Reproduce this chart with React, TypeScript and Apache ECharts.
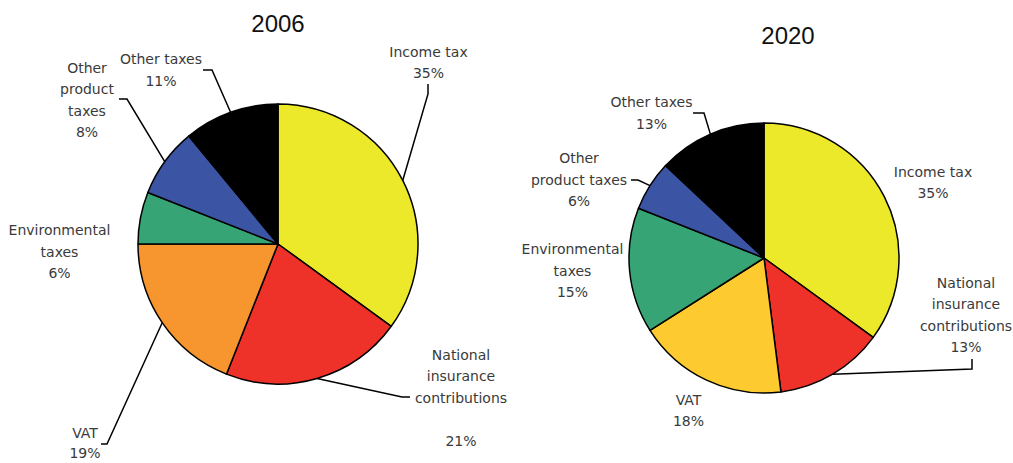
import React, { useEffect, useRef } from "react";
import * as echarts from "echarts";

const years = ["2006", "2020"];
const categories = [
  "Income tax",
  "National insurance contributions",
  "VAT",
  "Environmental taxes",
  "Other product taxes",
  "Other taxes",
];
const values2006 = [35, 21, 19, 6, 8, 11];
const values2020 = [35, 13, 18, 15, 6, 13];
// label wrapping as shown in each chart
const labels2006 = [
  "Income tax",
  "National\ninsurance\ncontributions\n",
  "VAT",
  "Environmental\ntaxes",
  "Other\nproduct\ntaxes",
  "Other taxes",
];
const labels2020 = [
  "Income tax",
  "National\ninsurance\ncontributions",
  "VAT",
  "Environmental\ntaxes",
  "Other\nproduct taxes",
  "Other taxes",
];
const colors2006 = ["#ECE82A", "#EE3129", "#F7952E", "#36A475", "#3B54A4", "#000000"];
const colors2020 = ["#ECE82A", "#EE3129", "#FDCA2F", "#36A475", "#3B54A4", "#000000"];

// layout (pixels)
const pies = [
  { cx: 278, cy: 244, r: 140, titleX: 278, titleY: 23 },
  { cx: 764, cy: 258, r: 135, titleX: 788, titleY: 35 },
];
type Lay = { x: number; y: number; lh?: number; line?: number[][] };
const layout2006: Lay[] = [
  { x: 428.5, y: 62.5, line: [[428, 94], [428, 84]] },
  { x: 461, y: 397.5, line: [[402, 397], [410, 397]] },
  { x: 85, y: 443, lh: 20, line: [[107, 444], [101, 444]] },
  { x: 59.5, y: 251.5 },
  { x: 87, y: 100, line: [[127, 99], [119, 99]] },
  { x: 161, y: 70, line: [[212, 70], [203, 70]] },
];
const layout2020: Lay[] = [
  { x: 933, y: 182.5 },
  { x: 966, y: 315, line: [[972, 369], [972, 359]] },
  { x: 688.5, y: 410.5 },
  { x: 572.5, y: 270.5 },
  { x: 579, y: 179.5, line: [[638, 180], [631, 180]] },
  { x: 651.5, y: 113, line: [[704, 113], [693, 113]] },
];

function edgePoint(values: number[], idx: number, cx: number, cy: number, r: number) {
  const total = values.reduce((a, b) => a + b, 0);
  let before = 0;
  for (let i = 0; i < idx; i++) before += values[i];
  const mid = ((before + values[idx] / 2) / total) * Math.PI * 2;
  return [cx + r * Math.sin(mid), cy - r * Math.cos(mid)];
}

function makeSeries(
  values: number[],
  labels: string[],
  colors: string[],
  lay: Lay[],
  p: { cx: number; cy: number; r: number }
) {
  return {
    type: "pie",
    center: [p.cx, p.cy],
    radius: p.r,
    startAngle: 90,
    clockwise: true,
    avoidLabelOverlap: false,
    silent: true,
    itemStyle: { borderColor: "#000", borderWidth: 1.5 },
    label: {
      show: true,
      position: "outside",
      fontFamily: "DejaVu Sans",
      fontSize: 14,
      lineHeight: 21.5,
      color: "#3a3a3a",
      align: "center",
    },
    labelLine: { show: true, lineStyle: { color: "#000", width: 1.5 } },
    labelLayout: (params: any) => {
      const L = lay[params.dataIndex];
      const out: any = { x: L.x, y: L.y, align: "center", verticalAlign: "middle" };
      if (L.line) {
        const e = edgePoint(values, params.dataIndex, p.cx, p.cy, p.r);
        out.labelLinePoints = [e, L.line[0], L.line[1]];
      }
      return out;
    },
    data: values.map((v, i) => ({
      name: categories[i],
      value: v,
      itemStyle: { color: colors[i] },
      label: {
        formatter: labels[i] + "\n" + v + "%",
        ...(lay[i].lh ? { lineHeight: lay[i].lh } : {}),
      },
      labelLine: { show: !!lay[i].line },
    })),
  };
}

export default function App() {
  const ref = useRef<HTMLDivElement>(null);
  useEffect(() => {
    if (!ref.current) return;
    const chart = echarts.init(ref.current, null, { renderer: "svg" });
    chart.setOption({
      animation: false,
      backgroundColor: "#ffffff",
      graphic: years.map((y, i) => ({
        type: "text",
        x: pies[i].titleX,
        y: pies[i].titleY,
        style: {
          text: y,
          align: "center",
          verticalAlign: "middle",
          fontFamily: "Liberation Sans",
          fontSize: 24,
          fill: "#111",
        },
      })),
      series: [
        makeSeries(values2006, labels2006, colors2006, layout2006, pies[0]),
        makeSeries(values2020, labels2020, colors2020, layout2020, pies[1]),
      ],
    });
    return () => chart.dispose();
  }, []);
  return (
    <div
      ref={ref}
      style={{ position: "absolute", left: 0, top: 0, width: 1013, height: 463 }}
    />
  );
}
